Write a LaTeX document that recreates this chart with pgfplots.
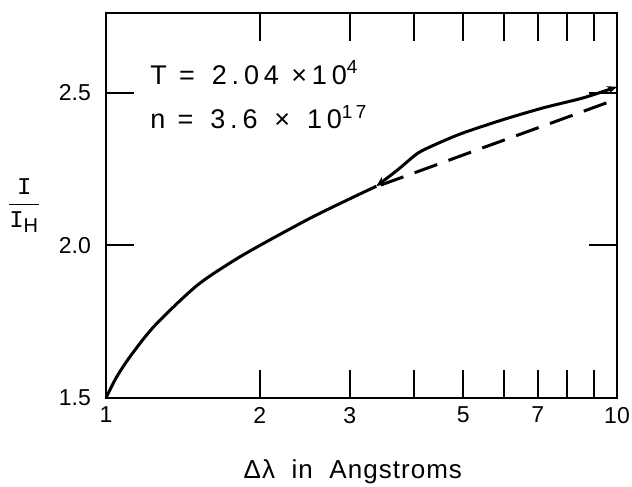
\documentclass[border=0pt]{standalone}
\usepackage{pgfplots}
\pgfplotsset{compat=1.18}
\usepackage{fontspec}
\setmainfont{Liberation Sans}
\newfontfamily\monofont{Liberation Mono}
\usetikzlibrary{arrows.meta}

\begin{document}
\begin{tikzpicture}
\begin{axis}[
  scale only axis, width=255.5pt, height=192.5pt,
  xmode=log, log basis x=10,
  xmin=1, xmax=10, ymin=1.5, ymax=2.762,
  xtick={1,2,3,4,5,6,7,8,9,10},
  xticklabels={1,2,3,,5,,7,,,10},
  minor xtick={},
  ytick={1.5,2.0,2.5}, yticklabels={1.5,2.0,2.5},
  tick align=inside, tick pos=both,
  major tick length=14pt,
  every tick/.style={black, line width=1pt},
  axis line style={line width=1pt},
  /pgf/number format/assume math mode=true,
  ticklabel style={font=\fontsize{11.5}{12}\selectfont},
  yticklabel style={xshift=-4pt},
  xticklabel style={yshift=-1pt},
  xlabel={Δλ\ \ in\ \ Angstroms},
  xlabel style={font=\fontsize{13}{15}\selectfont\addfontfeature{LetterSpace=4}, at={(axis description cs:0.483,-0.192)}, anchor=center},
  ylabel={$\displaystyle\frac{\mbox{\monofont I}}{\mbox{\monofont I}_{\mbox{\fontsize{10}{12}\selectfont H}}}$},
  ylabel style={font=\fontsize{12}{14}\selectfont, rotate=-90, at={(axis description cs:-0.16,0.50)}, anchor=center},
]
\addplot[black, line width=1.5pt, smooth, tension=0.5] coordinates {
  (1,1.5) (1.05,1.57) (1.125,1.645) (1.25,1.74) (1.5,1.866)
  (1.75,1.943) (2,2.0) (2.5,2.088) (3,2.153) (3.38,2.194)
};
\addplot[black, line width=1.5pt, smooth, tension=0.4,
  arrows={Stealth[length=5pt,width=4pt]-Stealth[length=5pt,width=4pt]}] coordinates {
  (3.38,2.194) (3.73,2.249) (4.08,2.303) (4.48,2.336) (5.0,2.369)
  (6.0,2.413) (7.17,2.451) (8.6,2.484) (10,2.52)
};
\addplot[black, line width=1.5pt, dash pattern=on 12pt off 6pt, smooth] coordinates {
  (3.45,2.198) (4.56,2.272) (5.46,2.320) (6.55,2.368) (7.86,2.416) (10,2.480)
};
\node[anchor=base west, inner sep=0pt, font=\fontsize{13.5}{15}\selectfont\addfontfeature{LetterSpace=18}] at (rel axis cs:0.086,0.815) {T = \,2.04 ×10\textsuperscript{4}};
\node[anchor=base west, inner sep=0pt, font=\fontsize{13.5}{15}\selectfont\addfontfeature{LetterSpace=18}] at (rel axis cs:0.086,0.700) {n = \,3.6 \,× \,10\textsuperscript{17}};
\end{axis}
\pgfresetboundingbox
\path ([shift={(-53pt,-44.5pt)}]current axis.south west) rectangle ([shift={(7.5pt,6.5pt)}]current axis.north east);
\end{tikzpicture}
\end{document}
